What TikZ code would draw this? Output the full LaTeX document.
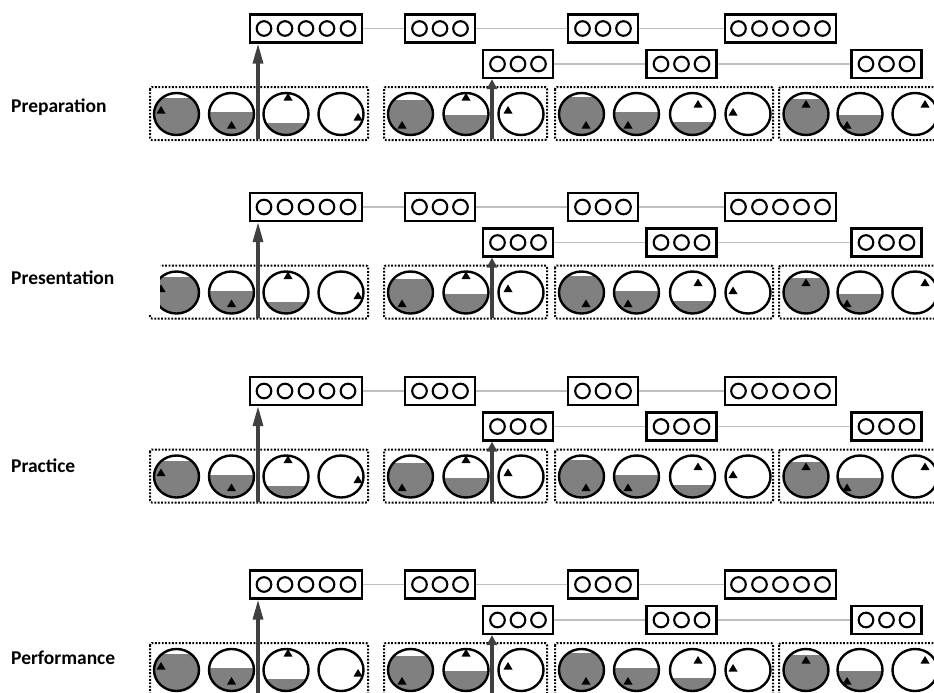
\documentclass[tikz,border=0pt]{standalone}
\usepackage{fontspec}
\setmainfont{Carlito}
\usetikzlibrary{arrows.meta,backgrounds}

\begin{document}
\begin{tikzpicture}[x=1pt,y=-1pt,
	seg/.style={draw,line width=2.2pt,fill=white,inner sep=0pt,minimum height=28pt},
	ring/.style={line width=2.1pt},
	cup/.style={line width=2.4pt},
	link/.style={draw=black!25,line width=1.5pt},
	lift/.style={draw=black!75,line width=3.2pt,-{Triangle[length=#1,width=10pt]}},
	lift/.default=20pt,
	grp/.style={line width=2pt,dash pattern=on 1.8pt off 1.6pt,rounded corners=2pt},
	stage/.style={font=\fontsize{19.5}{22}\selectfont\bfseries,anchor=base west,inner sep=0pt}]
	\useasboundingbox (0,0) rectangle (934,693);

	\foreach \r/\dy/\ly/\cl/\lab in {1/0/112/140/Preparation, 2/178.5/105.5/160/Presentation, 3/362.5/109.5/140/Practice, 4/556/108/140/Performance}{
		\begin{scope}[yshift=-\dy*1pt]
			\node[stage] (lab-\r) at (11,\ly) {\lab};

			\node[seg,minimum width=111.5pt] (tA-\r) at (306,28.5) {};
			\node[seg,minimum width=70pt] (tB-\r) at (440,28.5) {};
			\node[seg,minimum width=70pt] (tC-\r) at (603,28.5) {};
			\node[seg,minimum width=111.5pt] (tD-\r) at (780.5,28.5) {};
			\node[seg,minimum width=70pt] (sE-\r) at (518,64) {};
			\node[seg,minimum width=70pt] (sF-\r) at (681.5,64) {};
			\node[seg,minimum width=70pt] (sG-\r) at (886.5,64) {};

			\foreach \k in {-2,...,2}{
				\draw[ring] ([xshift=\k*21pt]tA-\r.center) circle (7.3pt);
				\draw[ring] ([xshift=\k*21pt]tD-\r.center) circle (7.3pt);
			}
			\foreach \b in {tB,tC,sE,sF,sG}{
				\foreach \k in {-1,0,1}{
					\draw[ring] ([xshift=\k*20.5pt]\b-\r.center) circle (7.3pt);
				}
			}

			\begin{pgfonlayer}{background}
				\draw[link] (tA-\r) -- (tD-\r);
				\draw[link] (sE-\r) -- (sG-\r);
			\end{pgfonlayer}

			\begin{scope}
				\clip (\cl,80) rectangle (940,136) (140,136) rectangle (940,146);
				\foreach \gl/\gr in {150/368, 384/547, 555/773, 779/945}{
					\draw[grp] (\gl,87) rectangle (\gr,140);
				}
				\foreach \cx/\lv/\tx/\ty in {176.5/-16/-15.5/-4, 231.5/-2/0/11, 286/9/2/-17, 341/40/17/3,
						410.5/-14/-8.5/11, 466/1/0/-17, 521/40/-13/-4,
						581.5/-17/4.5/11, 636.5/-2/-8.5/11, 692.5/8/5.5/-10, 748/40/-15/-2,
						806/-15/0/-10, 860/1/-13/11, 915/40/10/-10}{
					\begin{scope}
						\clip (\cx,114) ellipse [x radius=22.5pt,y radius=21pt];
						\fill[black!50] (\cx-25,114+\lv) rectangle (\cx+25,140);
					\end{scope}
					\draw[cup] (\cx,114) ellipse [x radius=22.5pt,y radius=21pt];
					\fill (\cx+\tx,114+\ty-4) -- ++(4.5,7.5) -- ++(-9,0) -- cycle;
				}
			\end{scope}

			\coordinate (fA-\r) at (258,139);
			\coordinate (fE-\r) at (492,139);
			\draw[lift] (fA-\r) -- (fA-\r |- tA-\r.south);
			\draw[lift=10pt] (fE-\r) -- (fE-\r |- sE-\r.south);
		\end{scope}
	}
\end{tikzpicture}
\end{document}
